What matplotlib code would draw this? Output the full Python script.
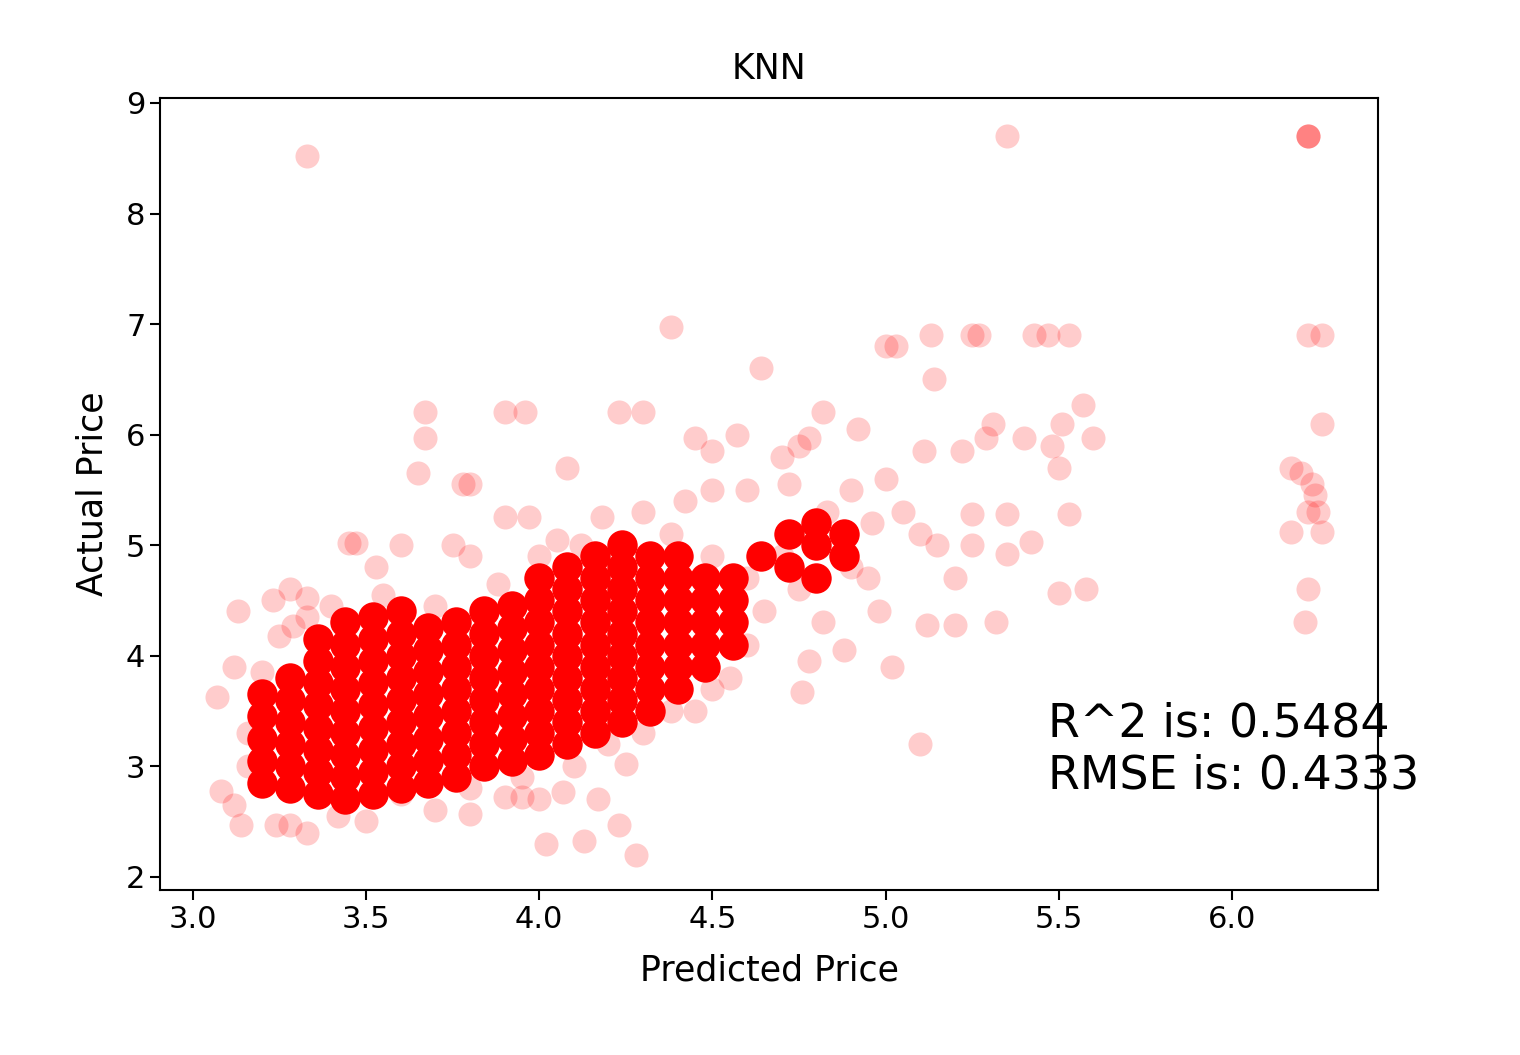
import matplotlib
matplotlib.use("Agg")
import matplotlib.pyplot as plt

# dense core of the cloud (heavily overlapping points)
core_x = ([3.2] * 5 + [3.28] * 6 + [3.36] * 8 + [3.44] * 9 + [3.52] * 9 + [3.6] * 9
          + [3.68] * 8 + [3.76] * 8 + [3.84] * 8 + [3.92] * 8 + [4.0] * 9 + [4.08] * 9
          + [4.16] * 9 + [4.24] * 9 + [4.32] * 8 + [4.4] * 7 + [4.48] * 5 + [4.56] * 4
          + [4.64, 4.72, 4.72, 4.8, 4.8, 4.88, 4.88, 4.8])
core_y = ([2.85, 3.05, 3.25, 3.45, 3.65],
          [2.8, 3.0, 3.2, 3.4, 3.6, 3.8],
          [2.75, 2.95, 3.15, 3.35, 3.55, 3.75, 3.95, 4.15],
          [2.7, 2.9, 3.1, 3.3, 3.5, 3.7, 3.9, 4.1, 4.3],
          [2.75, 2.95, 3.15, 3.35, 3.55, 3.75, 3.95, 4.15, 4.35],
          [2.8, 3.0, 3.2, 3.4, 3.6, 3.8, 4.0, 4.2, 4.4],
          [2.85, 3.05, 3.25, 3.45, 3.65, 3.85, 4.05, 4.25],
          [2.9, 3.1, 3.3, 3.5, 3.7, 3.9, 4.1, 4.3],
          [3.0, 3.2, 3.4, 3.6, 3.8, 4.0, 4.2, 4.4],
          [3.05, 3.25, 3.45, 3.65, 3.85, 4.05, 4.25, 4.45],
          [3.1, 3.3, 3.5, 3.7, 3.9, 4.1, 4.3, 4.5, 4.7],
          [3.2, 3.4, 3.6, 3.8, 4.0, 4.2, 4.4, 4.6, 4.8],
          [3.3, 3.5, 3.7, 3.9, 4.1, 4.3, 4.5, 4.7, 4.9],
          [3.4, 3.6, 3.8, 4.0, 4.2, 4.4, 4.6, 4.8, 5.0],
          [3.5, 3.7, 3.9, 4.1, 4.3, 4.5, 4.7, 4.9],
          [3.7, 3.9, 4.1, 4.3, 4.5, 4.7, 4.9],
          [3.9, 4.1, 4.3, 4.5, 4.7],
          [4.1, 4.3, 4.5, 4.7],
          [4.9, 4.8, 5.1, 4.7, 5.0, 4.9, 5.1, 5.2])
core_y = [v for col in core_y for v in col]

# scattered points around the cloud
halo = [(3.33, 8.52), (5.35, 8.7), (6.22, 8.7), (6.22, 8.7), (6.22, 8.7), (4.38, 6.97),
        (5.0, 6.8), (5.03, 6.8), (5.13, 6.9), (5.25, 6.9), (5.27, 6.9), (5.43, 6.9),
        (5.47, 6.9), (5.53, 6.9), (6.22, 6.9), (6.26, 6.9), (4.64, 6.6), (5.14, 6.5),
        (3.67, 6.2), (3.9, 6.2), (3.96, 6.2), (4.23, 6.2), (4.3, 6.2), (4.82, 6.2),
        (5.31, 6.1), (5.57, 6.27), (5.51, 6.1), (6.26, 6.1), (3.67, 5.97), (4.45, 5.97),
        (4.57, 6.0), (4.78, 5.97), (4.92, 6.05), (5.22, 5.85), (5.29, 5.97), (5.4, 5.97),
        (5.6, 5.97), (4.08, 5.7), (3.65, 5.65), (3.8, 5.55), (4.5, 5.85), (4.7, 5.8),
        (4.75, 5.9), (5.0, 5.6), (5.11, 5.85), (5.48, 5.9), (5.5, 5.7), (6.17, 5.7),
        (6.2, 5.65), (6.23, 5.55), (6.24, 5.45), (6.22, 5.3), (6.25, 5.3), (6.17, 5.12),
        (6.26, 5.12), (6.22, 4.6), (6.21, 4.3), (5.53, 5.28), (5.35, 5.28), (5.25, 5.28),
        (5.35, 4.92), (5.42, 5.03), (5.5, 4.57), (5.58, 4.6), (5.32, 4.3), (5.12, 4.28),
        (5.2, 4.28), (4.98, 4.4), (5.02, 3.9), (5.1, 3.2), (4.76, 3.67), (4.78, 3.95),
        (4.88, 4.05), (4.3, 3.3), (4.25, 3.02), (4.28, 2.2), (4.23, 2.47), (4.02, 2.3),
        (4.13, 2.32), (4.0, 2.7), (4.07, 2.77), (4.17, 2.7), (3.8, 2.57), (3.9, 2.72),
        (3.95, 2.72), (3.33, 2.4), (3.28, 2.47), (3.24, 2.47), (3.14, 2.47), (3.12, 2.65),
        (3.08, 2.78), (3.07, 3.63), (3.12, 3.9), (3.13, 4.4), (3.23, 4.5), (3.28, 4.6),
        (3.33, 4.52), (3.25, 4.18), (3.29, 4.27), (3.33, 4.35), (3.45, 5.02), (3.47, 5.02),
        (3.53, 4.8), (3.6, 5.0), (3.75, 5.0), (3.8, 4.9), (3.9, 5.25), (3.97, 5.25),
        (3.78, 5.55), (4.05, 5.05), (4.18, 5.25), (4.3, 5.3), (4.42, 5.4), (4.5, 5.5),
        (4.6, 5.5), (4.72, 5.55), (4.83, 5.3), (4.9, 5.5), (4.96, 5.2), (5.05, 5.3),
        (5.1, 5.1), (5.15, 5.0), (5.2, 4.7), (5.25, 5.0), (4.9, 4.8), (4.95, 4.7),
        (4.7, 4.9), (4.75, 4.6), (4.82, 4.3), (4.6, 4.1), (4.65, 4.4), (4.55, 3.8),
        (4.45, 3.5), (3.6, 2.75), (3.7, 2.6), (3.5, 2.5), (3.42, 2.55),
        (3.16, 3.0), (3.16, 3.3), (3.2, 3.85), (3.4, 4.45), (3.55, 4.55), (3.7, 4.45),
        (3.88, 4.65), (4.0, 4.9), (4.12, 5.0), (4.38, 5.1), (4.5, 4.9), (4.6, 4.7),
        (4.5, 3.7), (4.38, 3.5), (4.2, 3.2), (4.1, 3.0), (3.95, 2.9), (3.8, 2.8)]
halo_x = [p[0] for p in halo]
halo_y = [p[1] for p in halo]

r2 = 0.5484
rmse = 0.4333

fig = plt.figure(figsize=(15.2, 10.55), dpi=100)
ax = fig.add_axes([160 / 1520, 1 - 890 / 1055, 1218 / 1520, 792 / 1055])

ax.scatter(core_x, core_y, c="red", alpha=1.0, s=480, linewidths=0)
ax.scatter(halo_x, halo_y, c="red", alpha=0.2, s=300, linewidths=0)

ax.set_xlim(2.905, 6.422)
ax.set_ylim(1.88, 9.045)
ax.set_xticks([3.0, 3.5, 4.0, 4.5, 5.0, 5.5, 6.0])
ax.set_yticks([2, 3, 4, 5, 6, 7, 8, 9])
ax.tick_params(labelsize=22, length=7, width=1.5)
for s in ax.spines.values():
    s.set_linewidth(1.5)
ax.set_title("KNN", fontsize=25, pad=14)
ax.set_xlabel("Predicted Price", fontsize=25, labelpad=14)
ax.set_ylabel("Actual Price", fontsize=25, labelpad=12)

ax.text(5.47, 3.15, "R^2 is: %.4f\nRMSE is: %.4f" % (r2, rmse), fontsize=33,
        va="center", ha="left", linespacing=1.2, clip_on=False)

fig.savefig("out.png", dpi=100)
